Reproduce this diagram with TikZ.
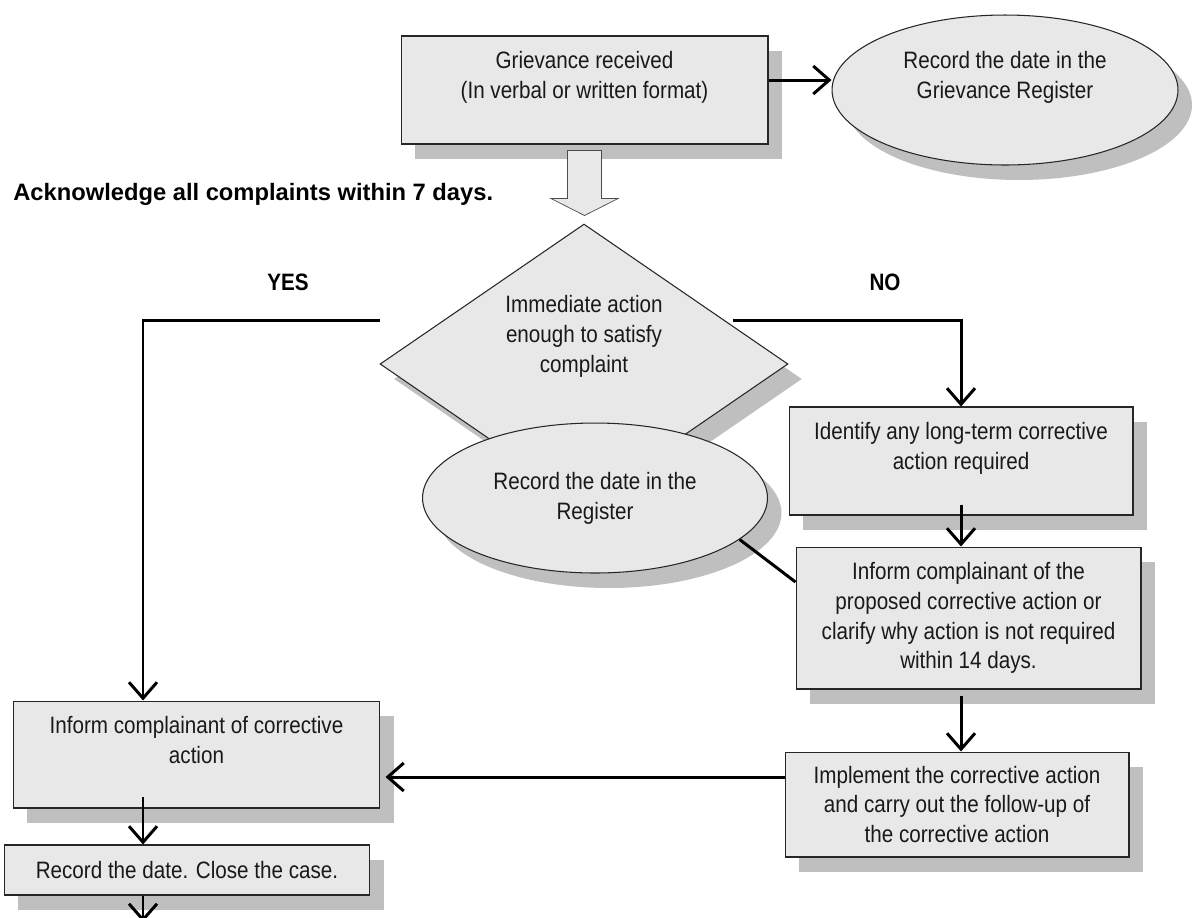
\documentclass[tikz,border=0pt]{standalone}
\usepackage{fontspec}
\setmainfont{Liberation Sans}[FakeStretch=0.87]
\newfontfamily\widesans{Liberation Sans}
\usetikzlibrary{shapes.geometric,shadows,arrows.meta}
\begin{document}
\begin{tikzpicture}[x=0.02cm, y=-0.02cm, font=\fontsize{13.5}{17}\selectfont,
    dropshade/.style={drop shadow={shadow xshift=0.28cm, shadow yshift=-0.3cm, fill=black!25, opacity=1}},
    stepbox/.style={draw=black!85, fill=black!9, line width=0.6pt, align=center, inner sep=0pt, text=black!90, dropshade},
    oval/.style={stepbox, ellipse},
    flow/.style={line width=1.7pt, -{Straight Barb[length=0.32cm, width=0.56cm]}}]
            \useasboundingbox (0,0) rectangle (1192,917);

            \node[stepbox, minimum width=7.34cm, minimum height=2.16cm] (griev) at (584.5,90) {Grievance received\\(In verbal or written format)\\~};
            \node[oval, minimum width=6.92cm, minimum height=3cm] (rec1) at (1005,90) {Record the date in the\\Grievance Register\\~};
            \node[stepbox, diamond, aspect=1.46, minimum width=8.16cm, minimum height=5.6cm] (dia) at (584,364) {Immediate action\\enough to satisfy\\complaint\\~\\~};
            \node[oval, minimum width=6.9cm, minimum height=3cm] (rec2) at (595,498) {Record the date in the\\Register};
            \node[stepbox, minimum width=6.88cm, minimum height=2.16cm] (ident) at (961,461) {Identify any long-term corrective\\action required\\~};
            \node[stepbox, minimum width=6.9cm, minimum height=2.84cm] (inf2) at (968.5,618) {Inform complainant of the\\proposed corrective action or\\clarify why action is not required\\within 14 days.};
            \node[stepbox, minimum width=6.88cm, minimum height=2.1cm] (impl) at (957,804.5) {Implement the corrective action\\and carry out the follow-up of\\the corrective action};
            \node[stepbox, minimum width=7.34cm, minimum height=2.14cm] (inf1) at (196.5,754.5) {Inform complainant of corrective\\action\\~};
            \node[stepbox, minimum width=7.32cm, minimum height=1cm] (close) at (187,870) {Record the date. Close the case.};

            \node[anchor=west, inner sep=0pt, font=\widesans\fontsize{13.5}{17}\selectfont\bfseries] (ack) at (13,194) {Acknowledge all complaints within 7 days.};
            \node[font=\fontsize{13.5}{17}\selectfont\bfseries] (yes) at (288,282) {YES};
            \node[font=\fontsize{13.5}{17}\selectfont\bfseries] (no) at (885,282) {NO};

            \coordinate (yesend) at (380,320);
            \coordinate (noend) at (733,320);
            \coordinate (lane) at (143,0);
            \coordinate (out) at (143,922);

            \draw[draw=black!70, fill=black!9] ([shift={(-17,6)}]griev.south) -- ++(34,0) -- ++(0,48) -- ++(16.5,0) -- ++(-33.5,17) -- ++(-33.5,-17) -- ++(16.5,0) -- cycle;
            \draw[flow] (griev.east |- 0,80) -- (rec1.west |- 0,80);
            \draw[flow] (yesend) -| (inf1.north -| lane);
            \draw[flow] (noend) -| (ident.north);
            \draw[flow, shorten <=-0.22cm] (ident.south) -- (inf2.north -| ident.south);
            \draw[flow, shorten <=0.12cm] (inf2.south -| ident.south) -- (impl.north -| ident.south);
            \draw[flow, shorten >=0.1cm] (impl.west |- 0,777) -- (inf1.east |- 0,777);
            \draw[flow, shorten <=-0.24cm] (inf1.south -| lane) -- (close.north -| lane);
            \draw[flow] (close.south -| lane) -- (out);
            \draw[line width=1.7pt] (rec2.-16) -- (inf2.west |- 0,582);
        \end{tikzpicture}
\end{document}
